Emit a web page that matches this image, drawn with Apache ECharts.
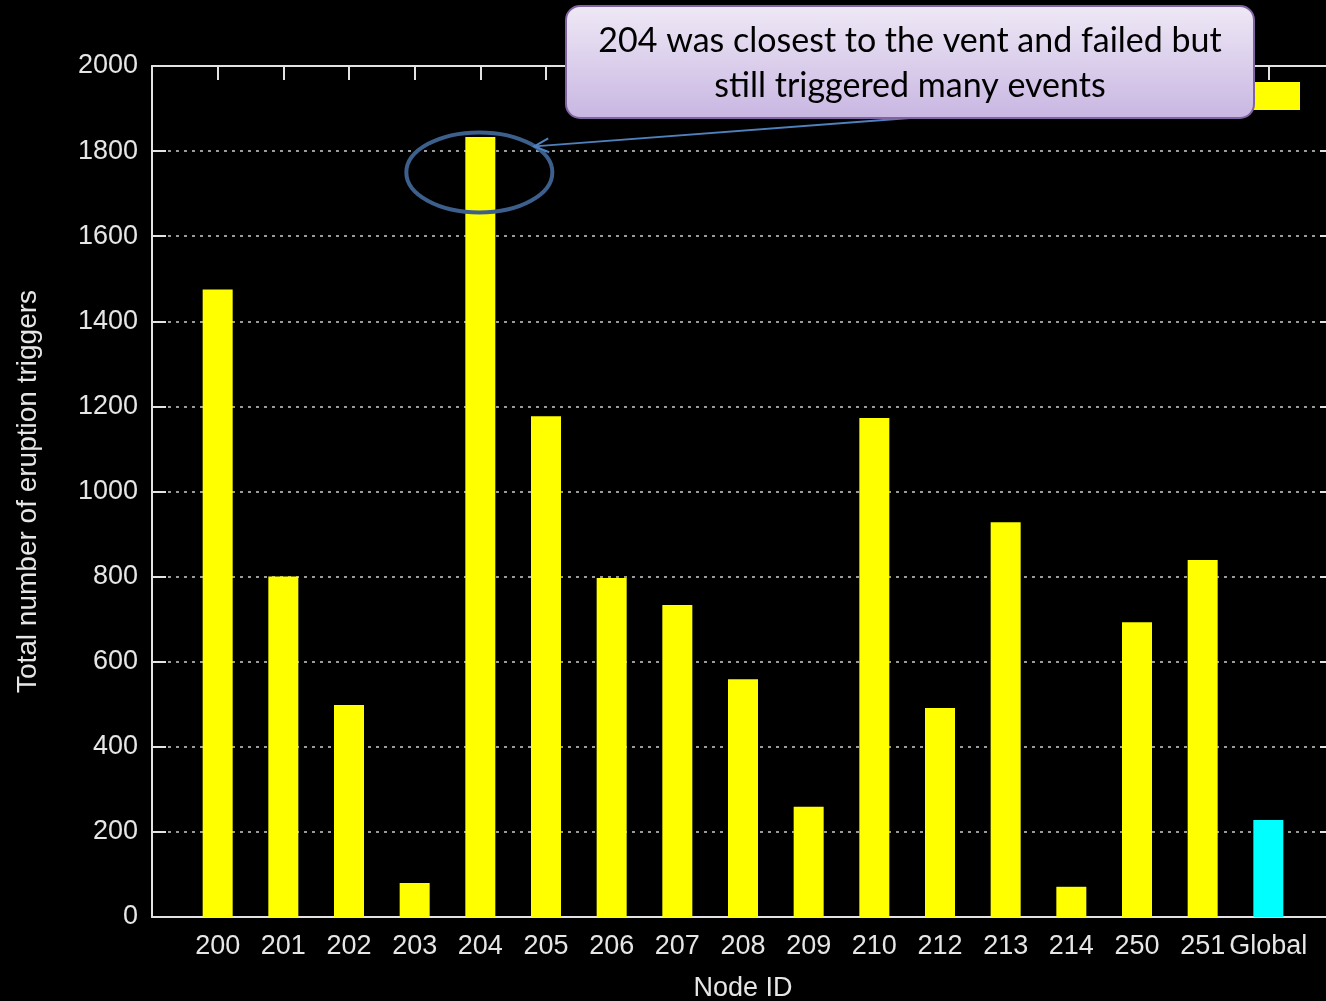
<!DOCTYPE html>
<html>
<head>
<meta charset="utf-8">
<title>Eruption triggers per node</title>
<script src="https://cdn.jsdelivr.net/npm/echarts@6/dist/echarts.min.js"></script>
<style>
  html, body { margin: 0; padding: 0; background: #000; }
  #chart { width: 1326px; height: 1001px; }
</style>
</head>
<body>
<div id="chart"></div>
<script>
// values
var nodes = ['200', '201', '202', '203', '204', '205', '206', '207', '208', '209', '210', '212', '213', '214', '250', '251', 'Global']
var triggers = [1475, 800, 498, 80, 1833, 1177, 797, 733, 559, 259, 1173, 491, 928, 71, 693, 839, 228]
var yTicks = [0, 200, 400, 600, 800, 1000, 1200, 1400, 1600, 1800, 2000]
var noteLines = ['204 was closest to the vent and failed but', 'still triggered many events']

var axisColor = '#e2e2e2'
var labelFont = {
  color: '#e6e6e6',
  fontFamily: 'Liberation Sans',
  fontSize: 27
}

var chart = echarts.init(document.getElementById('chart'))

var barData = triggers.map(function(v, i) {
  var item = { value: [i, v] }
  if (nodes[i] === 'Global') {
    item.itemStyle = { color: '#00ffff' }
  }
  return item
})

var axisLineStyle = { color: axisColor, width: 2 }

var option = {
  backgroundColor: '#000',
  animation: false,
  grid: {
    left: 152,
    top: 66,
    right: -8,
    bottom: 84,
    outerBoundsMode: 'none',
    containLabel: false
  },
  legend: {
    left: 1248,
    top: 77,
    icon: 'rect',
    itemWidth: 47,
    itemHeight: 28,
    formatter: ' ',
    selectedMode: false,
    data: ['Total']
  },
  xAxis: [{
    type: 'value',
    min: -1,
    max: nodes.length,
    interval: 1,
    name: 'Node ID',
    nameLocation: 'middle',
    nameGap: 58,
    nameTextStyle: Object.assign({}, labelFont, { fontSize: 27 }),
    axisLine: { show: true, onZero: false, lineStyle: axisLineStyle },
    axisTick: { inside: true, length: 14, lineStyle: axisLineStyle },
    axisLabel: Object.assign({}, labelFont, {
      margin: 16,
      showMinLabel: false,
      showMaxLabel: false,
      formatter: function(v) {
        return nodes[v] || ''
      }
    }),
    splitLine: { show: false }
  }, {
    type: 'value',
    position: 'top',
    min: -1,
    max: nodes.length,
    interval: 1,
    axisLine: { show: true, onZero: false, lineStyle: axisLineStyle },
    axisTick: { inside: true, length: 14, lineStyle: axisLineStyle },
    axisLabel: { show: false },
    splitLine: { show: false }
  }],
  yAxis: [{
    type: 'value',
    min: yTicks[0],
    max: yTicks[yTicks.length - 1],
    interval: 200,
    name: 'Total number of eruption triggers',
    nameLocation: 'middle',
    nameGap: 110,
    nameTextStyle: Object.assign({}, labelFont, { fontSize: 28 }),
    axisLine: { show: true, onZero: false, lineStyle: axisLineStyle },
    axisTick: { show: true, inside: true, length: 14, lineStyle: axisLineStyle },
    axisLabel: Object.assign({}, labelFont, {
      margin: 14,
      formatter: function(v) {
        return String(v)
      }
    }),
    splitLine: {
      show: true,
      lineStyle: { color: '#9a9a9a', width: 2, type: [3, 5] }
    }
  }, {
    type: 'value',
    position: 'right',
    min: yTicks[0],
    max: yTicks[yTicks.length - 1],
    interval: 200,
    axisLine: { show: true, onZero: false, lineStyle: axisLineStyle },
    axisTick: { show: true, inside: true, length: 14, lineStyle: axisLineStyle },
    axisLabel: { show: false },
    splitLine: { show: false }
  }],
  series: [{
    name: 'Total',
    type: 'bar',
    barWidth: 30,
    itemStyle: { color: '#ffff00' },
    data: barData,
    z: 3
  }]
}

chart.setOption(option)

// callout + ellipse around the 204 bar
var c = chart.convertToPixel({ xAxisIndex: 0, yAxisIndex: 0 }, [nodes.indexOf('204'), 1750])
var boxX = 566, boxY = 6, boxW = 688, boxH = 112
var from = [910, boxY + boxH]
var to = [c[0] + 54, c[1] - 26]
var ang = Math.atan2(from[1] - to[1], from[0] - to[0])
var head = 16
var spread = 0.45
var headPts = [
  [to[0] + head * Math.cos(ang + spread), to[1] + head * Math.sin(ang + spread)],
  to,
  [to[0] + head * Math.cos(ang - spread), to[1] + head * Math.sin(ang - spread)]
]

var noteFont = '34px Lato'

chart.setOption({
  graphic: [{
    type: 'ellipse',
    shape: { cx: c[0] - 1, cy: c[1], rx: 73, ry: 40 },
    style: { fill: null, stroke: '#3d5f8c', lineWidth: 4 },
    z: 10
  }, {
    type: 'line',
    shape: { x1: from[0], y1: from[1], x2: to[0], y2: to[1] },
    style: { stroke: '#4f81bd', lineWidth: 2 },
    z: 10
  }, {
    type: 'polyline',
    shape: { points: headPts },
    style: { stroke: '#4f81bd', lineWidth: 2, fill: null },
    z: 10
  }, {
    type: 'rect',
    shape: { x: boxX, y: boxY, width: boxW, height: boxH, r: 14 },
    style: {
      fill: new echarts.graphic.LinearGradient(0, 0, 0, 1, [
        { offset: 0, color: '#efe9f6' },
        { offset: 1, color: '#c8b6e2' }
      ]),
      stroke: '#8064a2',
      lineWidth: 2
    },
    z: 20
  }, {
    type: 'text',
    x: boxX + boxW / 2,
    y: 41,
    style: {
      text: noteLines[0],
      fill: '#000',
      font: noteFont,
      align: 'center',
      verticalAlign: 'middle'
    },
    z: 21
  }, {
    type: 'text',
    x: boxX + boxW / 2,
    y: 86,
    style: {
      text: noteLines[1],
      fill: '#000',
      font: noteFont,
      align: 'center',
      verticalAlign: 'middle'
    },
    z: 21
  }]
})
</script>
</body>
</html>
